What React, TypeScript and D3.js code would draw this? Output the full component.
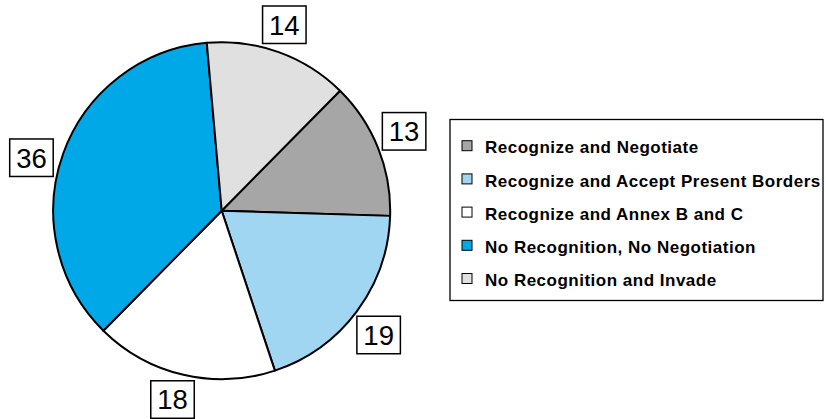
import React from "react";
import * as d3 from "d3";

const categories = [
  "Recognize and Negotiate",
  "Recognize and Accept Present Borders",
  "Recognize and Annex B and C",
  "No Recognition, No Negotiation",
  "No Recognition and Invade",
];
const values = [13.1, 19.4, 17.5, 36.2, 13.8];
const colors = ["#a6a6a6", "#a1d6f3", "#ffffff", "#00a8e8", "#e0e0e0"];

// layout constants
const labelNudgeDeg = [-1.7, 1.7, 1.5, -4.2, -1.15];
const W = 826;
const H = 419;
const cx = 221.7;
const cy = 210.7;
const R = 168.5;
const labelGap = 3;
const startDeg = 44.6;
const bw = 43.5;
const bh = 37.5;

export default function App() {
  const pie = d3
    .pie<number>()
    .sort(null)
    .value((d) => d)
    .startAngle((startDeg * Math.PI) / 180)
    .endAngle(((startDeg + 360) * Math.PI) / 180);
  const arcs = pie(values);
  const arc = d3.arc<d3.PieArcDatum<number>>().innerRadius(0).outerRadius(R);

  const legendX = 450;
  const legendY = 119.5;
  const legendW = 373;
  const legendH = 181;
  const rowY = d3
    .scalePoint<number>()
    .domain(d3.range(categories.length))
    .range([145.7, 278.5]);

  return (
    <svg
      width={W}
      height={H}
      style={{ position: "absolute", left: 0, top: 0 }}
      fontFamily="'Liberation Sans', Arial, sans-serif"
    >
      <rect width={W} height={H} fill="#fff" />
      <g transform={`translate(${cx},${cy})`}>
        {arcs.map((a, i) => (
          <path
            key={i}
            d={arc(a) || ""}
            fill={colors[i]}
            stroke="#000"
            strokeWidth={2}
            strokeLinejoin="round"
          />
        ))}
        {arcs.map((a, i) => {
          const mid =
            (a.startAngle + a.endAngle) / 2 + (labelNudgeDeg[i] * Math.PI) / 180;
          const sx = Math.sin(mid);
          const sy = -Math.cos(mid);
          const support = Math.abs(sx) * (bw / 2) + Math.abs(sy) * (bh / 2);
          const d = R + labelGap + support;
          const lx = sx * d;
          const ly = sy * d;
          return (
            <g key={"l" + i} transform={`translate(${lx},${ly})`}>
              <rect
                x={-bw / 2}
                y={-bh / 2}
                width={bw}
                height={bh}
                fill="#fff"
                stroke="#000"
                strokeWidth={1.5}
              />
              <text
                textAnchor="middle"
                dy="0.36em"
                fontSize={27.5}
                fill="#000"
              >
                {d3.format(".0f")(values[i])}
              </text>
            </g>
          );
        })}
      </g>
      <rect
        x={legendX}
        y={legendY}
        width={legendW}
        height={legendH}
        fill="#fff"
        stroke="#000"
        strokeWidth={1.3}
      />
      {categories.map((c, i) => {
        const y = rowY(i) as number;
        return (
          <g key={"g" + i}>
            <rect
              x={462}
              y={y - 5}
              width={10}
              height={10}
              fill={colors[i]}
              stroke="#000"
              strokeWidth={1}
            />
            <text
              x={485}
              y={y + 7.6}
              fontSize={17}
              fontWeight="bold"
              letterSpacing={0.5}
              fill="#000"
            >
              {c}
            </text>
          </g>
        );
      })}
    </svg>
  );
}
